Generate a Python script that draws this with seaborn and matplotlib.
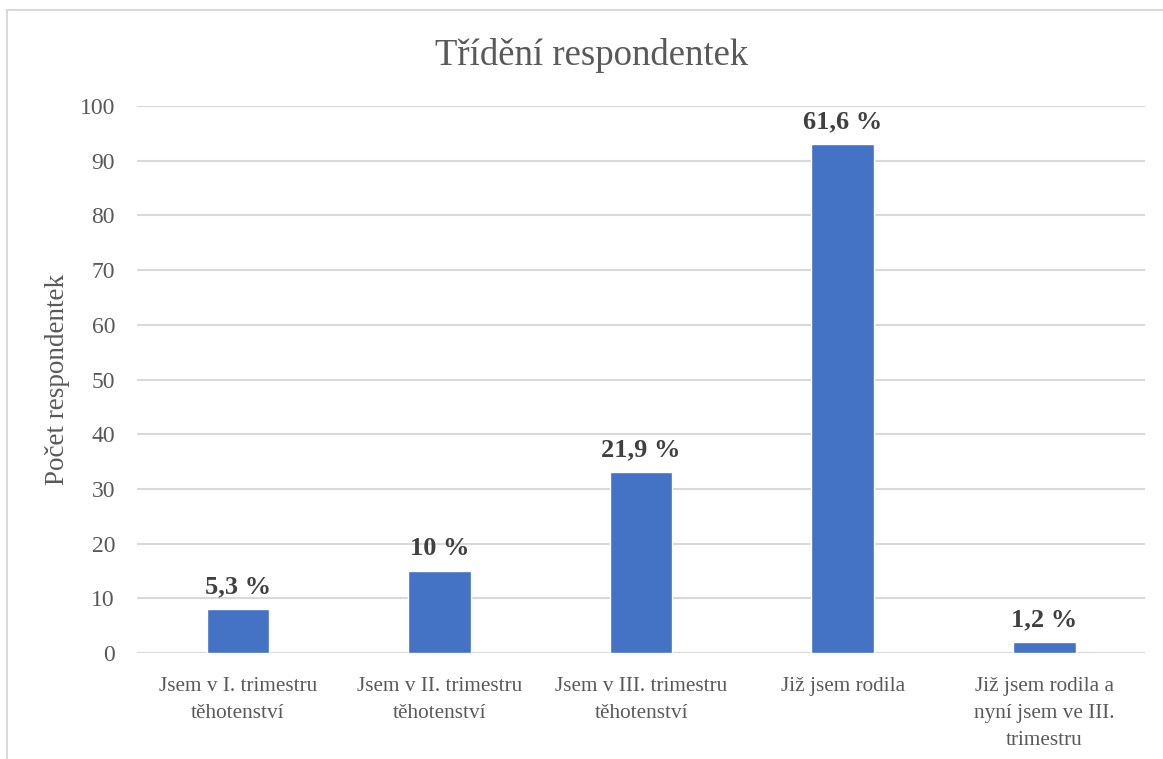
import matplotlib
matplotlib.use("Agg")
import matplotlib.pyplot as plt
from matplotlib.lines import Line2D
import seaborn as sns
import pandas as pd

categories = [
    "Jsem v I. trimestru\ntěhotenství",
    "Jsem v II. trimestru\ntěhotenství",
    "Jsem v III. trimestru\ntěhotenství",
    "Již jsem rodila",
    "Již jsem rodila a\nnyní jsem ve III.\ntrimestru",
]
counts = [8, 15, 33, 93, 2]
percent_labels = ["5,3 %", "10 %", "21,9 %", "61,6 %", "1,2 %"]

df = pd.DataFrame({"kategorie": categories, "pocet": counts})

sns.set_theme(style="white")
plt.rcParams["font.family"] = ["Liberation Serif", "DejaVu Serif"]

text_gray = "#595959"
grid_gray = "#d9d9d9"
bar_blue = "#4472C4"

fig = plt.figure(figsize=(11.63, 7.59), dpi=100)
ax = fig.add_axes([0.118, 0.1397, 0.8666, 0.7206])

sns.barplot(data=df, x="kategorie", y="pocet", color=bar_blue, width=0.31,
            saturation=1, ax=ax, zorder=3)

ax.set_ylim(0, 100)
ax.set_xlim(-0.5, 4.5)
ax.set_yticks(range(0, 101, 10))
ax.yaxis.grid(True, color=grid_gray, linewidth=1.5, zorder=0)
ax.set_axisbelow(True)
for side in ["top", "right", "left", "bottom"]:
    ax.spines[side].set_visible(False)
ax.axhline(0, color=grid_gray, linewidth=1.5, zorder=1)

ax.tick_params(axis="y", length=0, pad=16, labelsize=17, labelcolor=text_gray)
ax.tick_params(axis="x", length=0, pad=17, labelsize=15.3, labelcolor=text_gray)
for lbl in ax.get_xticklabels():
    lbl.set_linespacing(1.58)

ax.set_xlabel("")
ax.set_ylabel("Počet respondentek", fontsize=19.5, color=text_gray)
ax.yaxis.set_label_coords(-0.0665, 0.5)

for i, (v, txt) in enumerate(zip(counts, percent_labels)):
    ax.annotate(txt, (i, v), xytext=(0, 8), textcoords="offset points",
                ha="center", va="bottom", fontsize=19, fontweight="bold",
                color="#404040")

fig.text(0.509, 0.927, "Třídění respondentek", ha="center", va="center",
         fontsize=26.5, color=text_gray)

# chart frame edges
fig.add_artist(Line2D([0.006, 1.0], [0.9868, 0.9868], transform=fig.transFigure,
                      color=grid_gray, linewidth=1.5))
fig.add_artist(Line2D([0.006, 0.006], [0.0, 0.9868], transform=fig.transFigure,
                      color=grid_gray, linewidth=1.5))

fig.savefig("out.png", dpi=100)
